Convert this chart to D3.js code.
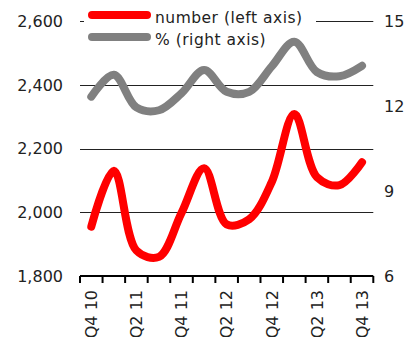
<!DOCTYPE html>
<html>
<head>
<meta charset="utf-8">
<script src="https://cdn.jsdelivr.net/npm/d3@7"></script>
<style>
  html, body { margin: 0; padding: 0; background: #fff; }
  svg { display: block; }
  text { font-family: "DejaVu Sans", "Open Sans", sans-serif; fill: #222; }
</style>
</head>
<body>
<svg id="chart" width="405" height="337"></svg>
<script>
// Quarterly observations, Q4 2010 – Q4 2013
const quarters = ["Q4 10","Q1 11","Q2 11","Q3 11","Q4 11","Q1 12","Q2 12","Q3 12","Q4 12","Q1 13","Q2 13","Q3 13","Q4 13"];
const numberValues = [1955, 2130, 1880, 1860, 1998, 2138, 1962, 1978, 2095, 2308, 2110, 2085, 2157];
const percentValues = [12.33, 13.1, 11.95, 11.85, 12.45, 13.27, 12.5, 12.5, 13.4, 14.27, 13.2, 13.05, 13.42];
const leftTicks = [1800, 2000, 2200, 2400, 2600];
const rightTicks = [6, 9, 12, 15];
const seriesNames = ["number (left axis)", "% (right axis)"];
const seriesColors = ["#ff0000", "#808080"];

const svg = d3.select("#chart");
const plotLeft = 80, plotRight = 373.3, plotTop = 21, plotBottom = 276;

const x = d3.scaleBand().domain(quarters).range([plotLeft, plotRight]).padding(0);
const yL = d3.scaleLinear().domain([1800, 2600]).range([plotBottom, plotTop]);
const yR = d3.scaleLinear().domain([6, 15]).range([plotBottom, plotTop]);

// horizontal gridlines
svg.append("g").selectAll("line")
  .data(leftTicks.filter(d => d > 1800))
  .join("line")
  .attr("x1", plotLeft).attr("x2", plotRight)
  .attr("y1", d => Math.round(yL(d)) + 0.5).attr("y2", d => Math.round(yL(d)) + 0.5)
  .attr("stroke", "#222").attr("stroke-width", 1);

// legend backdrop hides the top gridline behind the legend
svg.append("rect")
  .attr("x", 84).attr("y", 3).attr("width", 232).attr("height", 46)
  .attr("fill", "#fff");

// left axis labels
svg.append("g").selectAll("text")
  .data(leftTicks)
  .join("text")
  .attr("x", 63).attr("y", d => yL(d))
  .attr("dy", "0.36em")
  .attr("text-anchor", "end")
  .attr("font-size", 16)
  .text(d => d3.format(",")(d));

// right axis labels
svg.append("g").selectAll("text")
  .data(rightTicks)
  .join("text")
  .attr("x", 384).attr("y", d => yR(d))
  .attr("dy", "0.36em")
  .attr("text-anchor", "start")
  .attr("font-size", 16)
  .text(d => d);

// bottom axis with ticks on category boundaries
const boundaries = quarters.map(q => x(q)).concat([plotRight]);
const axisG = svg.append("g");
axisG.append("line")
  .attr("x1", plotLeft).attr("x2", plotRight)
  .attr("y1", plotBottom).attr("y2", plotBottom)
  .attr("stroke", "#000").attr("stroke-width", 2.2);
axisG.selectAll("line.tick")
  .data(boundaries)
  .join("line").attr("class", "tick")
  .attr("x1", d => d).attr("x2", d => d)
  .attr("y1", plotBottom).attr("y2", plotBottom + 7)
  .attr("stroke", "#000").attr("stroke-width", 2);
axisG.selectAll("text")
  .data(quarters.filter((q, i) => i % 2 === 0))
  .join("text")
  .attr("transform", d => `translate(${x(d) + x.bandwidth() / 2},${plotBottom + 14}) rotate(-90)`)
  .attr("dy", "0.36em")
  .attr("text-anchor", "end")
  .attr("font-size", 16)
  .text(d => d);

// series lines
const curve = d3.curveCatmullRom.alpha(0.5);
const lineL = d3.line().x((d, i) => x(quarters[i]) + x.bandwidth() / 2).y(d => yL(d)).curve(curve);
const lineR = d3.line().x((d, i) => x(quarters[i]) + x.bandwidth() / 2).y(d => yR(d)).curve(curve);

svg.append("path").datum(percentValues)
  .attr("d", lineR).attr("fill", "none")
  .attr("stroke", seriesColors[1]).attr("stroke-width", 8)
  .attr("stroke-linecap", "round").attr("stroke-linejoin", "round");
svg.append("path").datum(numberValues)
  .attr("d", lineL).attr("fill", "none")
  .attr("stroke", seriesColors[0]).attr("stroke-width", 8)
  .attr("stroke-linecap", "round").attr("stroke-linejoin", "round");

// legend
const items = svg.append("g").selectAll("g.item")
  .data(seriesNames)
  .join("g").attr("class", "item")
  .attr("transform", (d, i) => `translate(0,${15 + i * 22})`);
items.append("line")
  .attr("x1", 92).attr("x2", 147).attr("y1", 0).attr("y2", 0)
  .attr("stroke", (d, i) => seriesColors[i]).attr("stroke-width", 8)
  .attr("stroke-linecap", "round");
items.append("text")
  .attr("x", 155).attr("y", 2).attr("dy", "0.36em")
  .attr("font-size", 15.5)
  .attr("letter-spacing", 0.5)
  .text(d => d);
</script>
</body>
</html>
